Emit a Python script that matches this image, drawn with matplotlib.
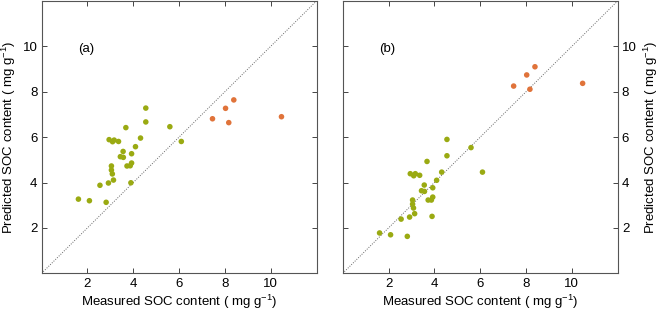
import numpy as np
import matplotlib.pyplot as plt

plt.rcParams['font.family'] = ['Liberation Sans', 'DejaVu Sans']
plt.rcParams['mathtext.fontset'] = 'custom'
plt.rcParams['mathtext.rm'] = 'Liberation Sans'
plt.rcParams['mathtext.it'] = 'Liberation Sans:italic'
plt.rcParams['mathtext.default'] = 'regular'

# measured SOC (same samples in both panels)
measured = [1.61, 2.09, 2.55, 2.82, 2.92, 2.95, 3.05, 3.05, 3.09, 3.14,
            3.10, 3.17, 3.36, 3.44, 3.57, 3.56, 3.68, 3.73, 3.87, 3.93,
            3.93, 3.90, 4.10, 4.32, 4.55, 4.55, 5.60, 6.10]
pred_a = [3.27, 3.20, 3.88, 3.13, 3.98, 5.89, 4.73, 4.55, 4.38, 4.11,
          5.80, 5.87, 5.81, 5.14, 5.11, 5.37, 6.42, 4.73, 4.74, 4.86,
          5.27, 3.99, 5.58, 5.96, 7.28, 6.67, 6.46, 5.81]
pred_b = [1.78, 1.70, 2.39, 1.63, 2.48, 4.39, 3.23, 3.05, 2.88, 2.63,
          4.30, 4.39, 4.32, 3.64, 3.61, 3.89, 4.93, 3.23, 3.23, 3.36,
          3.77, 2.51, 4.10, 4.46, 5.90, 5.18, 5.54, 4.46]

# high SOC samples (orange)
measured_hi = [7.46, 8.03, 8.17, 8.39, 10.47]
pred_a_hi = [6.81, 7.27, 6.64, 7.64, 6.90]
pred_b_hi = [8.25, 8.74, 8.11, 9.10, 8.37]

green = '#9aaa12'
orange = '#e0733a'
ticks = [2, 4, 6, 8, 10]
xlab = 'Measured SOC content ( mg g$^{-1}$)'
ylab = 'Predicted SOC content ( mg g$^{-1}$)'
fs = 9.5

fig = plt.figure(figsize=(6.6, 3.11), dpi=100)
ax1 = fig.add_axes([0.0629, 0.121, 0.4167, 0.876])
ax2 = fig.add_axes([0.5192, 0.121, 0.4167, 0.876])

panels = [(ax1, pred_a, pred_a_hi, '(a)'), (ax2, pred_b, pred_b_hi, '(b)')]
for ax, p, ph, tag in panels:
    ax.plot([0, 12], [0, 12], ls=(0, (1, 1.5)), color='#666666', lw=0.7, zorder=1)
    ax.scatter(measured, p, s=16, color=green, edgecolors='none', zorder=2)
    ax.scatter(measured_hi, ph, s=16, color=orange, edgecolors='none', zorder=2)
    ax.set_xlim(0, 12)
    ax.set_ylim(0, 12)
    ax.set_xticks(ticks)
    ax.set_yticks(ticks)
    ax.tick_params(direction='in', length=3.5, width=0.7, labelsize=fs,
                   top=True, right=True, color='#444444', pad=3)
    for s in ax.spines.values():
        s.set_color('#555555')
        s.set_linewidth(0.8)
    ax.text(1.6, 9.9, tag, fontsize=fs, va='center', ha='left')
    ax.set_xlabel(xlab, fontsize=fs, labelpad=2)

ax1.set_ylabel(ylab, fontsize=fs, labelpad=3)
ax2.yaxis.tick_right()
ax2.tick_params(left=True, right=True, labelleft=False, labelright=True)
ax2.yaxis.set_label_position('right')
ax2.set_ylabel(ylab, fontsize=fs, labelpad=4)

fig.savefig('out.png', dpi=100)
